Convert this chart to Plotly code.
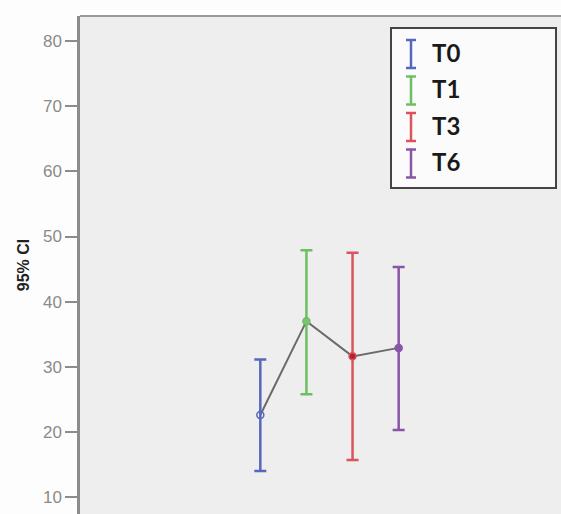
import plotly.graph_objects as go

# ---- data ----
groups = ["T0", "T1", "T3", "T6"]
x_pos = [1, 2, 3, 4]
means = [22.6, 37.0, 31.6, 32.9]
upper = [31.1, 47.9, 47.5, 45.3]
lower = [14.0, 25.8, 15.7, 20.3]
colors = ["#5767bd", "#6cbf63", "#d9545c", "#8a55a6"]
marker_fill = ["rgba(0,0,0,0)", "#7cc373", "#b3242f", "#8a55a6"]
y_ticks = [10, 20, 30, 40, 50, 60, 70, 80]

W, H = 561, 514
ML, MT = 80, 16
PW, PH = W - ML, H - MT

fig = go.Figure()

# mean line
fig.add_trace(go.Scatter(
    x=x_pos, y=means, mode="lines",
    line=dict(color="#6a6a6a", width=2), showlegend=False, hoverinfo="skip"))

for i, g in enumerate(groups):
    fig.add_trace(go.Scatter(
        x=[x_pos[i]], y=[means[i]], mode="markers", name=g,
        marker=dict(symbol="circle", size=7, color=marker_fill[i],
                    line=dict(color=colors[i], width=1.5)),
        error_y=dict(type="data", symmetric=False,
                     array=[upper[i] - means[i]], arrayminus=[means[i] - lower[i]],
                     color=colors[i], thickness=2.5, width=6),
        showlegend=False))

# plot-area top border
shapes = [dict(type="line", xref="paper", yref="paper", x0=0, x1=1, y0=1, y1=1,
               line=dict(color="#999999", width=2))]

# legend box
def px_to_paper(px, py):
    return (px - ML) / PW, 1 - (py - MT) / PH

bx0, by0 = px_to_paper(391, 28)
bx1, by1 = px_to_paper(556, 188)
shapes.append(dict(type="rect", xref="paper", yref="paper", x0=bx0, x1=bx1, y0=by1, y1=by0,
                   fillcolor="#fbfbfb", line=dict(color="#444444", width=2)))

annotations = []
for i, g in enumerate(groups):
    cy = 54 + i * 36.5
    gx = 411
    for (a, b, c, d) in [(gx, cy - 14, gx, cy + 14), (gx - 5, cy - 14, gx + 5, cy - 14),
                         (gx - 5, cy + 14, gx + 5, cy + 14)]:
        p0 = px_to_paper(a, b)
        p1 = px_to_paper(c, d)
        shapes.append(dict(type="line", xref="paper", yref="paper",
                           x0=p0[0], y0=p0[1], x1=p1[0], y1=p1[1],
                           line=dict(color=colors[i], width=2.5)))
    tx, ty = px_to_paper(430, cy - 2)
    annotations.append(dict(xref="paper", yref="paper", x=tx, y=ty, text=g,
                            showarrow=False, xanchor="left", yanchor="middle",
                            font=dict(family="Lato", size=24, color="#1a1a1a",
                                      weight="bold")))

fig.update_layout(
    width=W, height=H,
    margin=dict(l=ML, r=0, t=MT, b=0),
    paper_bgcolor="#fdfdfd", plot_bgcolor="#eeeeee",
    showlegend=False,
    shapes=shapes, annotations=annotations,
    xaxis=dict(range=[-2.91, 7.52], visible=False, showgrid=False, zeroline=False),
    yaxis=dict(range=[7.4, 83.85], tickvals=y_ticks, showgrid=False, zeroline=False,
               showline=True, linecolor="#8c8c8c", linewidth=2.5,
               ticks="outside", ticklen=12, tickwidth=2, tickcolor="#8c8c8c",
               tickfont=dict(family="Arial", size=17, color="#8a8a8a"),
               title=dict(text="<b>95% CI</b>", standoff=10,
                          font=dict(family="Arial", size=16, color="#222222"))),
)

fig.write_html("out.html")
